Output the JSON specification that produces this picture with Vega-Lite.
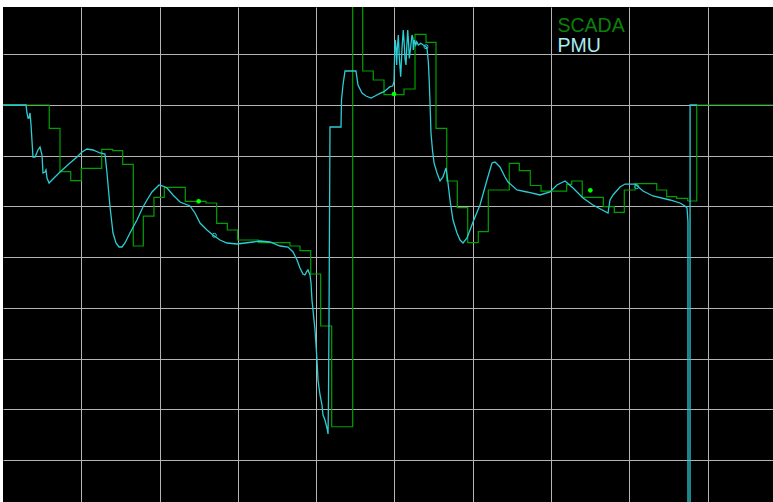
{
  "$schema": "https://vega.github.io/schema/vega-lite/v6.json",
  "width": 770,
  "height": 495,
  "autosize": {"type": "none"},
  "padding": {"left": 3, "top": 7, "right": 0, "bottom": 0},
  "background": "white",
  "config": {
    "view": {"fill": "black", "stroke": null},
    "axis": {"domain": false, "ticks": false, "labels": false, "title": null, "grid": true, "gridColor": "#b4b4b4", "gridWidth": 1, "gridOpacity": 1}
  },
  "datasets": {
    "scada": [
      {"t": 0, "v": 8.0, "series": "SCADA"},
      {"t": 0.591, "v": 7.541, "series": "SCADA"},
      {"t": 0.728, "v": 6.685, "series": "SCADA"},
      {"t": 0.865, "v": 6.508, "series": "SCADA"},
      {"t": 1.0, "v": 6.752, "series": "SCADA"},
      {"t": 1.261, "v": 7.127, "series": "SCADA"},
      {"t": 1.401, "v": 7.099, "series": "SCADA"},
      {"t": 1.529, "v": 6.831, "series": "SCADA"},
      {"t": 1.664, "v": 5.22, "series": "SCADA"},
      {"t": 1.792, "v": 5.811, "series": "SCADA"},
      {"t": 1.928, "v": 6.18, "series": "SCADA"},
      {"t": 2.06, "v": 6.377, "series": "SCADA"},
      {"t": 2.328, "v": 6.101, "series": "SCADA"},
      {"t": 2.593, "v": 6.068, "series": "SCADA"},
      {"t": 2.729, "v": 5.667, "series": "SCADA"},
      {"t": 2.865, "v": 5.535, "series": "SCADA"},
      {"t": 2.997, "v": 5.338, "series": "SCADA"},
      {"t": 3.261, "v": 5.285, "series": "SCADA"},
      {"t": 3.665, "v": 5.22, "series": "SCADA"},
      {"t": 3.793, "v": 5.127, "series": "SCADA"},
      {"t": 3.93, "v": 4.668, "series": "SCADA"},
      {"t": 4.057, "v": 3.642, "series": "SCADA"},
      {"t": 4.198, "v": 1.656, "series": "SCADA"},
      {"t": 4.466, "v": 11.0, "series": "SCADA"},
      {"t": 4.594, "v": 8.671, "series": "SCADA"},
      {"t": 4.729, "v": 8.493, "series": "SCADA"},
      {"t": 4.866, "v": 8.207, "series": "SCADA"},
      {"t": 5.121, "v": 8.316, "series": "SCADA"},
      {"t": 5.262, "v": 9.395, "series": "SCADA"},
      {"t": 5.402, "v": 9.237, "series": "SCADA"},
      {"t": 5.53, "v": 7.541, "series": "SCADA"},
      {"t": 5.667, "v": 6.502, "series": "SCADA"},
      {"t": 5.802, "v": 5.975, "series": "SCADA"},
      {"t": 5.935, "v": 5.285, "series": "SCADA"},
      {"t": 6.07, "v": 5.502, "series": "SCADA"},
      {"t": 6.198, "v": 6.324, "series": "SCADA"},
      {"t": 6.466, "v": 6.851, "series": "SCADA"},
      {"t": 6.594, "v": 6.705, "series": "SCADA"},
      {"t": 6.734, "v": 6.413, "series": "SCADA"},
      {"t": 6.871, "v": 6.304, "series": "SCADA"},
      {"t": 7.199, "v": 6.437, "series": "SCADA"},
      {"t": 7.263, "v": 6.502, "series": "SCADA"},
      {"t": 7.398, "v": 6.18, "series": "SCADA"},
      {"t": 7.667, "v": 5.995, "series": "SCADA"},
      {"t": 7.807, "v": 5.884, "series": "SCADA"},
      {"t": 7.935, "v": 6.324, "series": "SCADA"},
      {"t": 8.072, "v": 6.448, "series": "SCADA"},
      {"t": 8.349, "v": 6.324, "series": "SCADA"},
      {"t": 8.476, "v": 6.192, "series": "SCADA"},
      {"t": 8.604, "v": 6.161, "series": "SCADA"},
      {"t": 8.745, "v": 6.107, "series": "SCADA"},
      {"t": 8.86, "v": 8.0, "series": "SCADA"},
      {"t": 9.834, "v": 8.0, "series": "SCADA"}
    ],
    "pmu": [
      {"t": 0, "v": 8.0, "series": "PMU"},
      {"t": 0.294, "v": 8.0, "series": "PMU"},
      {"t": 0.306, "v": 7.843, "series": "PMU"},
      {"t": 0.319, "v": 7.744, "series": "PMU"},
      {"t": 0.332, "v": 7.744, "series": "PMU"},
      {"t": 0.345, "v": 7.843, "series": "PMU"},
      {"t": 0.358, "v": 7.606, "series": "PMU"},
      {"t": 0.383, "v": 6.975, "series": "PMU"},
      {"t": 0.409, "v": 6.975, "series": "PMU"},
      {"t": 0.447, "v": 7.113, "series": "PMU"},
      {"t": 0.473, "v": 7.172, "series": "PMU"},
      {"t": 0.498, "v": 7.014, "series": "PMU"},
      {"t": 0.511, "v": 6.659, "series": "PMU"},
      {"t": 0.536, "v": 6.679, "series": "PMU"},
      {"t": 0.549, "v": 6.719, "series": "PMU"},
      {"t": 0.562, "v": 6.561, "series": "PMU"},
      {"t": 0.588, "v": 6.462, "series": "PMU"},
      {"t": 0.664, "v": 6.581, "series": "PMU"},
      {"t": 0.728, "v": 6.679, "series": "PMU"},
      {"t": 0.856, "v": 6.857, "series": "PMU"},
      {"t": 0.945, "v": 6.975, "series": "PMU"},
      {"t": 1.009, "v": 7.074, "series": "PMU"},
      {"t": 1.073, "v": 7.133, "series": "PMU"},
      {"t": 1.149, "v": 7.113, "series": "PMU"},
      {"t": 1.239, "v": 7.054, "series": "PMU"},
      {"t": 1.303, "v": 7.034, "series": "PMU"},
      {"t": 1.328, "v": 6.659, "series": "PMU"},
      {"t": 1.367, "v": 5.989, "series": "PMU"},
      {"t": 1.405, "v": 5.476, "series": "PMU"},
      {"t": 1.443, "v": 5.279, "series": "PMU"},
      {"t": 1.482, "v": 5.2, "series": "PMU"},
      {"t": 1.52, "v": 5.2, "series": "PMU"},
      {"t": 1.558, "v": 5.279, "series": "PMU"},
      {"t": 1.622, "v": 5.476, "series": "PMU"},
      {"t": 1.711, "v": 5.733, "series": "PMU"},
      {"t": 1.788, "v": 5.989, "series": "PMU"},
      {"t": 1.839, "v": 6.127, "series": "PMU"},
      {"t": 1.903, "v": 6.285, "series": "PMU"},
      {"t": 1.992, "v": 6.423, "series": "PMU"},
      {"t": 2.043, "v": 6.403, "series": "PMU"},
      {"t": 2.095, "v": 6.364, "series": "PMU"},
      {"t": 2.171, "v": 6.226, "series": "PMU"},
      {"t": 2.261, "v": 6.088, "series": "PMU"},
      {"t": 2.388, "v": 6.009, "series": "PMU"},
      {"t": 2.452, "v": 5.871, "series": "PMU"},
      {"t": 2.516, "v": 5.673, "series": "PMU"},
      {"t": 2.605, "v": 5.535, "series": "PMU"},
      {"t": 2.682, "v": 5.437, "series": "PMU"},
      {"t": 2.771, "v": 5.338, "series": "PMU"},
      {"t": 2.861, "v": 5.279, "series": "PMU"},
      {"t": 2.989, "v": 5.259, "series": "PMU"},
      {"t": 3.091, "v": 5.279, "series": "PMU"},
      {"t": 3.193, "v": 5.299, "series": "PMU"},
      {"t": 3.282, "v": 5.318, "series": "PMU"},
      {"t": 3.41, "v": 5.299, "series": "PMU"},
      {"t": 3.538, "v": 5.22, "series": "PMU"},
      {"t": 3.64, "v": 5.2, "series": "PMU"},
      {"t": 3.704, "v": 5.102, "series": "PMU"},
      {"t": 3.755, "v": 4.944, "series": "PMU"},
      {"t": 3.793, "v": 4.786, "series": "PMU"},
      {"t": 3.831, "v": 4.668, "series": "PMU"},
      {"t": 3.857, "v": 4.648, "series": "PMU"},
      {"t": 3.883, "v": 4.727, "series": "PMU"},
      {"t": 3.895, "v": 4.747, "series": "PMU"},
      {"t": 3.921, "v": 4.648, "series": "PMU"},
      {"t": 3.934, "v": 4.49, "series": "PMU"},
      {"t": 3.946, "v": 4.155, "series": "PMU"},
      {"t": 3.959, "v": 3.958, "series": "PMU"},
      {"t": 3.985, "v": 3.563, "series": "PMU"},
      {"t": 4.01, "v": 2.972, "series": "PMU"},
      {"t": 4.023, "v": 2.577, "series": "PMU"},
      {"t": 4.049, "v": 2.282, "series": "PMU"},
      {"t": 4.074, "v": 2.084, "series": "PMU"},
      {"t": 4.087, "v": 1.887, "series": "PMU"},
      {"t": 4.112, "v": 1.789, "series": "PMU"},
      {"t": 4.138, "v": 1.631, "series": "PMU"},
      {"t": 4.151, "v": 1.513, "series": "PMU"},
      {"t": 4.157, "v": 2.183, "series": "PMU"},
      {"t": 4.164, "v": 3.879, "series": "PMU"},
      {"t": 4.176, "v": 7.567, "series": "PMU"},
      {"t": 4.317, "v": 7.567, "series": "PMU"},
      {"t": 4.323, "v": 8.099, "series": "PMU"},
      {"t": 4.342, "v": 8.395, "series": "PMU"},
      {"t": 4.368, "v": 8.671, "series": "PMU"},
      {"t": 4.508, "v": 8.671, "series": "PMU"},
      {"t": 4.534, "v": 8.395, "series": "PMU"},
      {"t": 4.585, "v": 8.237, "series": "PMU"},
      {"t": 4.636, "v": 8.178, "series": "PMU"},
      {"t": 4.7, "v": 8.138, "series": "PMU"},
      {"t": 4.751, "v": 8.178, "series": "PMU"},
      {"t": 4.815, "v": 8.231, "series": "PMU"},
      {"t": 4.866, "v": 8.263, "series": "PMU"},
      {"t": 4.943, "v": 8.361, "series": "PMU"},
      {"t": 4.977, "v": 8.375, "series": "PMU"},
      {"t": 4.994, "v": 8.46, "series": "PMU"},
      {"t": 5.003, "v": 9.118, "series": "PMU"},
      {"t": 5.01, "v": 9.282, "series": "PMU"},
      {"t": 5.019, "v": 9.118, "series": "PMU"},
      {"t": 5.028, "v": 8.789, "series": "PMU"},
      {"t": 5.036, "v": 9.118, "series": "PMU"},
      {"t": 5.049, "v": 9.381, "series": "PMU"},
      {"t": 5.061, "v": 8.953, "series": "PMU"},
      {"t": 5.079, "v": 8.558, "series": "PMU"},
      {"t": 5.096, "v": 9.118, "series": "PMU"},
      {"t": 5.112, "v": 9.479, "series": "PMU"},
      {"t": 5.125, "v": 9.183, "series": "PMU"},
      {"t": 5.134, "v": 8.921, "series": "PMU"},
      {"t": 5.147, "v": 8.789, "series": "PMU"},
      {"t": 5.156, "v": 9.118, "series": "PMU"},
      {"t": 5.169, "v": 9.479, "series": "PMU"},
      {"t": 5.181, "v": 9.183, "series": "PMU"},
      {"t": 5.189, "v": 8.921, "series": "PMU"},
      {"t": 5.207, "v": 9.15, "series": "PMU"},
      {"t": 5.224, "v": 9.381, "series": "PMU"},
      {"t": 5.236, "v": 9.316, "series": "PMU"},
      {"t": 5.24, "v": 9.085, "series": "PMU"},
      {"t": 5.253, "v": 9.282, "series": "PMU"},
      {"t": 5.271, "v": 9.183, "series": "PMU"},
      {"t": 5.284, "v": 9.249, "series": "PMU"},
      {"t": 5.304, "v": 9.183, "series": "PMU"},
      {"t": 5.335, "v": 9.217, "series": "PMU"},
      {"t": 5.368, "v": 9.183, "series": "PMU"},
      {"t": 5.402, "v": 9.15, "series": "PMU"},
      {"t": 5.415, "v": 9.118, "series": "PMU"},
      {"t": 5.432, "v": 8.854, "series": "PMU"},
      {"t": 5.444, "v": 8.46, "series": "PMU"},
      {"t": 5.453, "v": 8.065, "series": "PMU"},
      {"t": 5.466, "v": 7.448, "series": "PMU"},
      {"t": 5.485, "v": 7.113, "series": "PMU"},
      {"t": 5.505, "v": 6.857, "series": "PMU"},
      {"t": 5.543, "v": 6.659, "series": "PMU"},
      {"t": 5.581, "v": 6.502, "series": "PMU"},
      {"t": 5.619, "v": 6.581, "series": "PMU"},
      {"t": 5.658, "v": 6.758, "series": "PMU"},
      {"t": 5.671, "v": 6.62, "series": "PMU"},
      {"t": 5.709, "v": 6.127, "series": "PMU"},
      {"t": 5.747, "v": 5.733, "series": "PMU"},
      {"t": 5.798, "v": 5.476, "series": "PMU"},
      {"t": 5.837, "v": 5.338, "series": "PMU"},
      {"t": 5.875, "v": 5.279, "series": "PMU"},
      {"t": 5.926, "v": 5.378, "series": "PMU"},
      {"t": 6.003, "v": 5.693, "series": "PMU"},
      {"t": 6.092, "v": 6.028, "series": "PMU"},
      {"t": 6.181, "v": 6.521, "series": "PMU"},
      {"t": 6.245, "v": 6.857, "series": "PMU"},
      {"t": 6.284, "v": 6.876, "series": "PMU"},
      {"t": 6.347, "v": 6.778, "series": "PMU"},
      {"t": 6.411, "v": 6.581, "series": "PMU"},
      {"t": 6.45, "v": 6.482, "series": "PMU"},
      {"t": 6.564, "v": 6.324, "series": "PMU"},
      {"t": 6.692, "v": 6.285, "series": "PMU"},
      {"t": 6.858, "v": 6.226, "series": "PMU"},
      {"t": 6.986, "v": 6.285, "series": "PMU"},
      {"t": 7.075, "v": 6.423, "series": "PMU"},
      {"t": 7.178, "v": 6.502, "series": "PMU"},
      {"t": 7.28, "v": 6.364, "series": "PMU"},
      {"t": 7.408, "v": 6.166, "series": "PMU"},
      {"t": 7.535, "v": 6.028, "series": "PMU"},
      {"t": 7.727, "v": 5.871, "series": "PMU"},
      {"t": 7.752, "v": 6.127, "series": "PMU"},
      {"t": 7.791, "v": 6.226, "series": "PMU"},
      {"t": 7.88, "v": 6.383, "series": "PMU"},
      {"t": 7.944, "v": 6.442, "series": "PMU"},
      {"t": 8.072, "v": 6.442, "series": "PMU"},
      {"t": 8.174, "v": 6.304, "series": "PMU"},
      {"t": 8.301, "v": 6.206, "series": "PMU"},
      {"t": 8.519, "v": 6.127, "series": "PMU"},
      {"t": 8.646, "v": 6.068, "series": "PMU"},
      {"t": 8.71, "v": 6.009, "series": "PMU"},
      {"t": 8.736, "v": 5.969, "series": "PMU"},
      {"t": 8.748, "v": 5.693, "series": "PMU"},
      {"t": 8.749, "v": -1.0, "series": "PMU"},
      {"t": 8.774, "v": -1.0, "series": "PMU"},
      {"t": 8.775, "v": 8.0, "series": "PMU"},
      {"t": 8.863, "v": 8.0, "series": "PMU"}
    ],
    "scadaMarks": [
      {"t": 2.499, "v": 6.101},
      {"t": 4.994, "v": 8.217},
      {"t": 7.501, "v": 6.318}
    ],
    "pmuMarks": [
      {"t": 2.699, "v": 5.431},
      {"t": 5.402, "v": 9.15},
      {"t": 8.093, "v": 6.389}
    ]
  },
  "encoding": {
    "x": {"field": "t", "type": "quantitative", "scale": {"domain": [0, 9.834], "nice": false, "zero": false}, "axis": {"values": [1, 2, 3, 4, 5, 6, 7, 8, 9]}},
    "y": {"field": "v", "type": "quantitative", "scale": {"domain": [0.1716, 9.933], "nice": false, "zero": false}, "axis": {"values": [1, 2, 3, 4, 5, 6, 7, 8, 9]}}
  },
  "layer": [
    {
      "data": {"name": "scada"},
      "mark": {"type": "line", "interpolate": "step-after", "strokeWidth": 1.2, "clip": true},
      "encoding": {
        "color": {
          "field": "series", "type": "nominal",
          "scale": {"domain": ["SCADA", "PMU"], "range": ["#00a000", "#2ccdd4"]},
          "legend": {
            "orient": "none", "legendX": 535, "legendY": 9, "title": null, "padding": 0,
            "symbolSize": 0, "symbolOpacity": 0, "symbolStrokeWidth": 0, "labelOffset": 0,
            "labelFont": "Liberation Sans", "labelFontSize": 19.5, "rowPadding": -2.5,
            "encode": {"labels": {"update": {"fill": {"signal": "datum.label === 'SCADA' ? '#0a800a' : '#a8eef2'"}}}}
          }
        }
      }
    },
    {
      "data": {"name": "pmu"},
      "mark": {"type": "line", "interpolate": "linear", "strokeWidth": 1.3, "clip": true},
      "encoding": {"color": {"field": "series", "type": "nominal"}}
    },
    {
      "data": {"name": "scadaMarks"},
      "mark": {"type": "point", "filled": true, "color": "#00ff00", "size": 22, "opacity": 1}
    },
    {
      "data": {"name": "pmuMarks"},
      "mark": {"type": "point", "filled": false, "color": "#2ccdd4", "size": 16, "strokeWidth": 1, "opacity": 1}
    }
  ]
}
